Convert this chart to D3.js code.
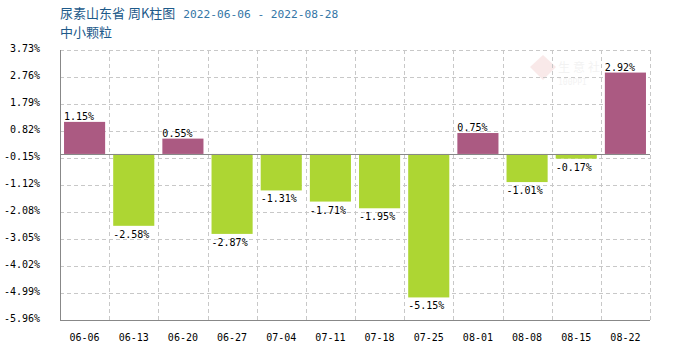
<!DOCTYPE html>
<html><head><meta charset="utf-8">
<script src="https://cdn.jsdelivr.net/npm/d3@7"></script>
<style>body{margin:0;background:#fff}</style>
</head><body><svg id="c" width="700" height="350"></svg>
<script>
const categories = ["06-06","06-13","06-20","06-27","07-04","07-11","07-18","07-25","08-01","08-08","08-15","08-22"];
const values = [1.15,-2.58,0.55,-2.87,-1.31,-1.71,-1.95,-5.15,0.75,-1.01,-0.17,2.92];
const yTicks = [3.73,2.76,1.79,0.82,-0.15,-1.12,-2.08,-3.05,-4.02,-4.99,-5.96];
const titleMain = "尿素山东省 周K柱图";
const titleDate = "2022-06-06 - 2022-08-28";
const subtitle = "中小颗粒";

const svg = d3.select("#c");
const L=60, R=650, T=50, B=320;
const x = d3.scaleBand().domain(categories).range([L,R]).paddingInner(0.164).paddingOuter(0.082);
const y = d3.scaleLinear().domain([-5.96,3.73]).range([B,T]);
const mono = "'DejaVu Sans Mono', monospace";

// watermark
const wm = svg.append("g").attr("opacity",0.1);
wm.append("path").attr("d","M530,67 L543,55 L556,67 L543,80 Z").attr("fill","#c33");
wm.append("text").attr("x",558).attr("y",72).attr("font-size",12).attr("letter-spacing",3).attr("fill","#888").attr("font-family","'Noto Sans CJK SC'").text("生意社");
wm.append("text").attr("x",558).attr("y",85).attr("font-size",8).attr("fill","#888").attr("font-family",mono).text("100PPI");

// grid horizontal
svg.append("g").selectAll("line").data(yTicks).join("line")
  .attr("x1",L).attr("x2",R).attr("y1",d=>Math.round(y(d))+0.5).attr("y2",d=>Math.round(y(d))+0.5)
  .attr("stroke","#c8c8c8").attr("stroke-dasharray","4,3");
// grid vertical
const bw = (R-L)/categories.length;
svg.append("g").selectAll("line").data(d3.range(1,categories.length+1)).join("line")
  .attr("x1",i=>Math.round(L+i*bw)+0.5).attr("x2",i=>Math.round(L+i*bw)+0.5).attr("y1",T).attr("y2",B)
  .attr("stroke","#c8c8c8").attr("stroke-dasharray","4,3");

// bars
svg.append("g").selectAll("rect").data(values).join("rect")
  .attr("x",(d,i)=>x(categories[i]))
  .attr("width",x.bandwidth())
  .attr("y",d=>y(Math.max(0,d)))
  .attr("height",d=>Math.abs(y(d)-y(0)))
  .attr("fill",d=>d>=0?"#ab5a82":"#add633");

// zero line
svg.append("line").attr("x1",L).attr("x2",R).attr("y1",Math.round(y(0))+0.5).attr("y2",Math.round(y(0))+0.5).attr("stroke","#888");

// axes lines
svg.append("line").attr("x1",L+0.5).attr("x2",L+0.5).attr("y1",T).attr("y2",B).attr("stroke","#888");
svg.append("line").attr("x1",L).attr("x2",R).attr("y1",B+0.5).attr("y2",B+0.5).attr("stroke","#888");

// value labels
svg.append("g").selectAll("text").data(values).join("text")
  .attr("x",(d,i)=>x(categories[i]))
  .attr("y",d=>d>=0?y(d)-2:y(d)+12)
  .attr("font-family",mono).attr("font-size",10).attr("fill","#000")
  .text(d=>d.toFixed(2)+"%");

// y tick labels
svg.append("g").selectAll("text").data(yTicks).join("text")
  .attr("x",40).attr("y",d=>y(d)+2).attr("text-anchor","end")
  .attr("font-family",mono).attr("font-size",10).attr("fill","#000")
  .text(d=>d.toFixed(2)+"%");

// x labels
svg.append("g").selectAll("text").data(categories).join("text")
  .attr("x",d=>x(d)+x.bandwidth()/2).attr("y",341).attr("text-anchor","middle")
  .attr("font-family",mono).attr("font-size",10).attr("fill","#000")
  .text(d=>d);

// titles
const t = svg.append("text").attr("x",60).attr("y",18);
t.append("tspan").attr("font-family","'Noto Sans CJK SC'").attr("font-size",13).attr("fill","#1d5a8a").text(titleMain);
t.append("tspan").attr("dx",8).attr("font-family",mono).attr("font-size",11.2).attr("fill","#3476a6").text(titleDate);
svg.append("text").attr("x",60).attr("y",37).attr("font-family","'Noto Sans CJK SC'").attr("font-size",13).attr("fill","#1d5a8a").text(subtitle);
</script></body></html>
